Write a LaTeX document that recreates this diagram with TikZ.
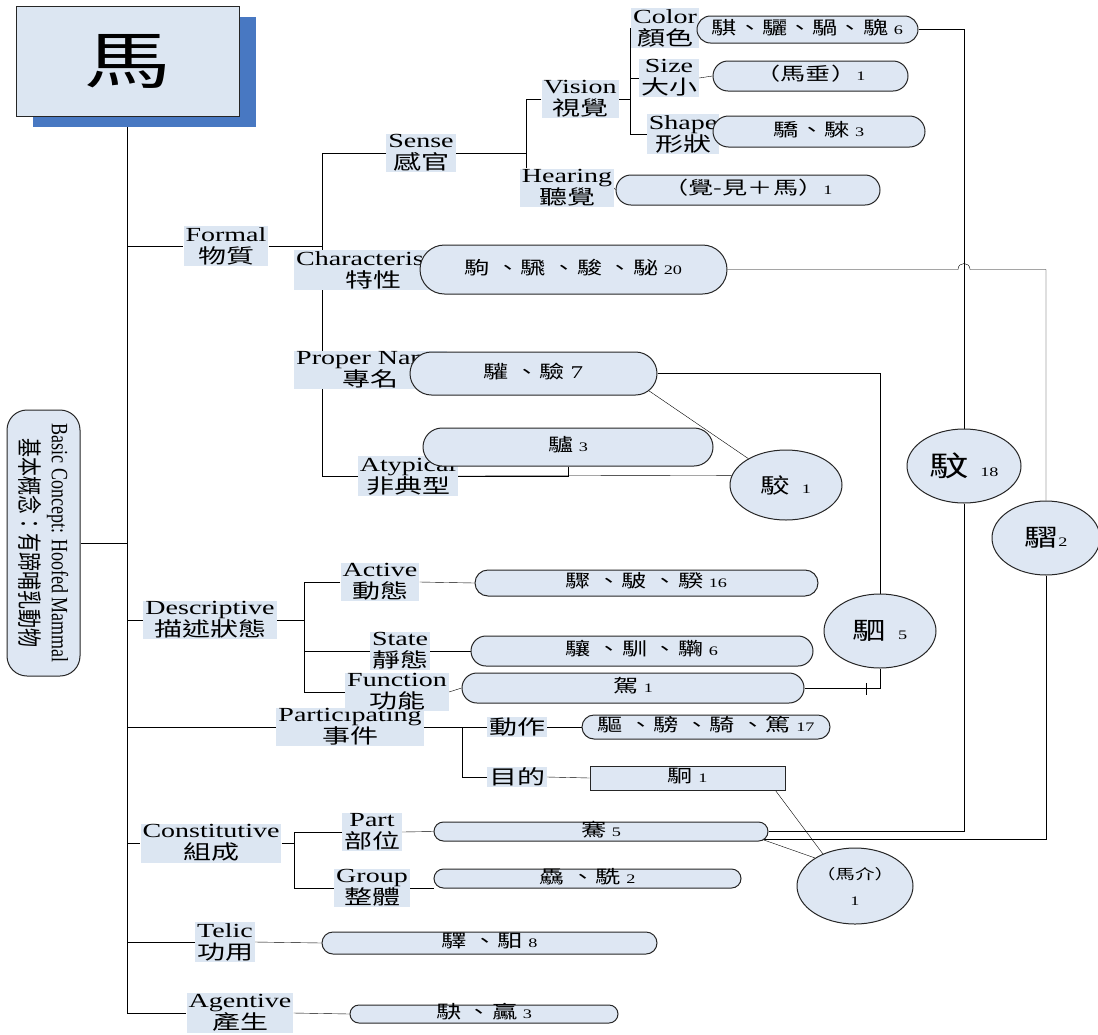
\documentclass[tikz,border=0pt]{standalone}
\usepackage{fontspec}
\setmainfont{Liberation Serif}[FakeStretch=1.4]
\newfontfamily\cjk{Noto Sans CJK TC}[FakeStretch=1.4]
\newfontfamily\cjkn{Noto Sans CJK TC}
\newfontfamily\rmn{Liberation Serif}
\usetikzlibrary{shapes.geometric, shapes.misc, backgrounds, calc}
\definecolor{labfill}{RGB}{220,230,242}
\definecolor{pillfill}{RGB}{222,231,243}
\definecolor{shadowblue}{RGB}{72,120,194}
\newcommand{\lab}[2]{#1\\{\cjk #2}}
\newcommand{\cnt}[1]{{\rmfamily\fontsize{13}{13}\selectfont #1}}
\tikzset{
  lab/.style={fill=labfill, inner xsep=2pt, inner ysep=1pt, align=center, font=\fontsize{20}{22}\selectfont},
  pill/.style={rounded rectangle, draw=black!85, fill=pillfill, line width=1pt, inner sep=0pt, text height=12pt, text depth=3pt, font=\cjk\fontsize{18}{18}\selectfont},
  box/.style={rectangle, draw=black!85, fill=pillfill, line width=1pt, inner sep=0pt, text height=12pt, text depth=3pt, font=\cjk\fontsize{18}{18}\selectfont},
  oval/.style={ellipse, draw=black!85, fill=pillfill, line width=1pt, inner sep=0pt, align=center, font=\cjk\fontsize{24}{26}\selectfont}
}

\begin{document}
\begin{tikzpicture}[x=1pt, y=-1pt]
		\useasboundingbox (0,0) rectangle (1098,1034);
		
		% head
		\fill[shadowblue] (33,17) rectangle (256,127);
		\node[draw=black!85, line width=1pt, fill=labfill, minimum width=223, minimum height=110, font=\cjk\fontsize{62}{62}\selectfont] (ma) at (127.5,61) {馬};
		\node[draw=black!85, line width=1pt, fill=pillfill, rounded corners=20pt, rotate=-90, minimum width=266, minimum height=73, inner sep=0pt, align=center] (basic) at (43.5,543)
			{\scalebox{1}[1.3]{\rmn\fontsize{18}{18}\selectfont Basic Concept: Hoofed Mammal}\\[4pt]\scalebox{1}[1.3]{\cjkn\fontsize{19}{19}\selectfont 基本概念：有蹄哺乳動物}};
		
		% formal
		\node[lab] (formal) at (226,246) {\lab{Formal}{物質}};
		\node[lab] (sense) at (421,153) {\lab{Sense}{感官}};
		\node[lab] (vision) at (580,99) {\lab{Vision}{視覺}};
		\node[lab] (hearing) at (567,188) {\lab{Hearing}{聽覺}};
		\node[lab] (color) at (665,28) {\lab{Color}{顏色}};
		\node[lab] (size) at (669,78) {\lab{Size}{大小}};
		\node[lab] (shape) at (683,134) {\lab{Shape}{形狀}};
		\node[lab, anchor=west] (charac) at (294,270) {\lab{Characteristic}{特性}};
		\node[lab, anchor=west] (proper) at (294,370) {\lab{Proper Name}{專名}};
		\node[lab] (atyp) at (408,476) {\lab{Atypical}{非典型}};
		
		\node[pill, minimum width=221, minimum height=27] (pcolor) at (807.5,29.5) {騏、驪、騧、騩 \cnt{6}};
		\node[pill, minimum width=195, minimum height=30] (psize) at (810.5,76) {（馬垂）\cnt{1}};
		\node[pill, minimum width=212, minimum height=31] (pshape) at (819,131.5) {驕、騋 \cnt{3}};
		\node[pill, minimum width=264, minimum height=30] (phear) at (748,190) {（覺-見＋馬）\cnt{1}};
		\node[pill, minimum width=307, minimum height=49] (pchar) at (573.5,269.5) {駒 、騛 、駿 、駜 \cnt{20}};
		\node[pill, minimum width=247, minimum height=43] (pprop) at (533.5,373.5) {驩 、驗 {\rmfamily 7}};
		\node[pill, minimum width=290, minimum height=38] (patyp) at (568,447) {驢 \cnt{3}};
		
		% descriptive
		\node[lab] (desc) at (210,620) {\lab{Descriptive}{描述狀態}};
		\node[lab] (active) at (380,582) {\lab{Active}{動態}};
		\node[lab] (state) at (400,651) {\lab{State}{靜態}};
		\node[lab] (partic) at (350,727) {\lab{Participating}{事件}};
		\node[lab] (func) at (397,692) {\lab{Function}{功能}};
		
		\node[pill, minimum width=343, minimum height=26] (pact) at (646.5,583) {驟 、駊 、騤 \cnt{16}};
		\node[pill, minimum width=342, minimum height=30] (pstate) at (642,651) {驤 、馴 、驧 \cnt{6}};
		\node[pill, minimum width=342, minimum height=30] (pfunc) at (633,688) {駕 \cnt{1}};
		
		% participating
		\node[lab] (do) at (517,727) {\cjk 動作};
		\node[lab] (aim) at (517,777) {\cjk 目的};
		\node[pill, minimum width=248, minimum height=24] (pdo) at (706,727) {驅 、騯 、騎 、篤 \cnt{17}};
		\node[box, minimum width=195, minimum height=24] (paim) at (687.5,778) {駉 \cnt{1}};
		
		% constitutive, telic, agentive
		\node[lab] (const) at (211,843) {\lab{Constitutive}{組成}};
		\node[lab] (part) at (372,832) {\lab{Part}{部位}};
		\node[lab] (group) at (372,888) {\lab{Group}{整體}};
		\node[pill, minimum width=334, minimum height=19] (ppart) at (601,831.5) {騫 \cnt{5}};
		\node[pill, minimum width=307, minimum height=19] (pgroup) at (587.5,878.5) {驫 、駪 \cnt{2}};
		
		\node[lab] (telic) at (225,942) {\lab{Telic}{功用}};
		\node[lab] (agent) at (240,1013) {\lab{Agentive}{產生}};
		\node[pill, minimum width=335, minimum height=22] (ptelic) at (489.5,943) {驛 、馹 \cnt{8}};
		\node[pill, minimum width=268, minimum height=18] (pagent) at (484,1014) {駃 、驘 \cnt{3}};
		
		% shared characters
		\node[oval, minimum width=112, minimum height=70] (jiao) at (786,485) {{\fontsize{21}{21}\selectfont 駮}\, \cnt{1}};
		\node[oval, minimum width=112, minimum height=74] (si) at (880,631) {駟\, \cnt{5}};
		\node[oval, minimum width=114, minimum height=74] (wen) at (964,466) {{\fontsize{28}{28}\selectfont 馼}\, \cnt{18}};
		\node[oval, minimum width=108, minimum height=74] (xi) at (1046,538) {騽\cnt{2}};
		\node[oval, minimum width=116, minimum height=76] (jie) at (855,886) {{\fontsize{14}{16}\selectfont （馬介）}\\\cnt{1}};
		
		\begin{scope}[on background layer, black!90, line width=1.3pt]
		\fill[white] (0,0) rectangle (1098,1034);
		\coordinate (fbus) at (322,0);
		\coordinate (sbus) at (526,0);
		\coordinate (vbus) at (630,0);
		\coordinate (dbus) at (304,0);
		\coordinate (pbus) at (462,0);
		\coordinate (cbus) at (294,0);
		
		% trunk
		\draw (ma.south) |- (agent.west);
		\draw (basic.north) -- (basic.north -| ma.south);
		\draw (formal.west -| ma.south) -- (formal.west);
		\draw (desc.west -| ma.south) -- (desc.west);
		\draw (partic.west -| ma.south) -- (partic.west);
		\draw (const.west -| ma.south) -- (const.west);
		\draw (telic.west -| ma.south) -- (telic.west);
		
		\draw (formal.east) -- (formal.east -| fbus);
		\draw (sense.west) -| (fbus |- atyp.west) -- (atyp.west);
		\draw (sense.east) -- (sense.east -| sbus);
		\draw (vision.west) -| (sbus |- hearing.north);
		\draw (vision.east) -- (vision.east -| vbus);
		\draw (color.west) -| (vbus |- shape.west) -- (shape.west);
		\draw (size.west) -- (size.west -| vbus);
		\draw (size.east) -- (psize.west);
		\draw (hearing.east) -- (phear.west);
		
		\draw (desc.east) -- (desc.east -| dbus);
		\draw (active.west) -| (dbus |- func.west) -- (func.west);
		\draw (state.west) -- (state.west -| dbus);
		\draw (active.east) -- (pact.west);
		\draw (state.east) -- (pstate.west);
		\draw (func.east) -- (pfunc.west);
		
		\draw (partic.east) -- (do.west);
		\draw (do.west -| pbus) |- (aim.west);
		\draw (do.east) -- (pdo.west);
		\draw (aim.east) -- (paim.west);
		
		\draw (const.east) -- (const.east -| cbus);
		\draw (part.west) -| (cbus |- group.west) -- (group.west);
		\draw (part.east) -- (ppart.west);
		\draw (group.east) -- (group.east -| pgroup.west);
		\draw (telic.east) -- (ptelic.west);
		\draw (agent.east) -- (pagent.west);
		
		% links to shared characters
		\coordinate (hopa) at ($(pchar.east -| wen)+(-6,0)$);
		\coordinate (hopb) at ($(pchar.east -| wen)+(6,0)$);
		\coordinate (propfoot) at ($(pprop.east)+(-9,17)$);
		\coordinate (partfoot) at ($(ppart.east)+(-6,8)$);
		\draw (pcolor.east) -| (wen.north);
		\draw (pchar.east) -- (hopa) .. controls ($(hopa)+(0,-8)$) and ($(hopb)+(0,-8)$) .. (hopb) -| (xi.north);
		\draw (pprop.east) -| (si.north);
		\draw (propfoot) -- (jiao.145);
		\draw (patyp.south) |- (atyp.east);
		\draw (atyp.east) -- (jiao.170);
		\draw (pfunc.east) -| (si.south);
		\draw ($(pfunc.east)+(62,-5)$) -- ++(0,12);
		\draw (wen.south) |- (ppart.east);
		\draw (xi.south) |- (partfoot);
		\draw (partfoot) -- (jie.145);
		\draw ([xshift=-10pt]paim.south east) -- (jie.135);
		\end{scope}
\end{tikzpicture}
\end{document}
